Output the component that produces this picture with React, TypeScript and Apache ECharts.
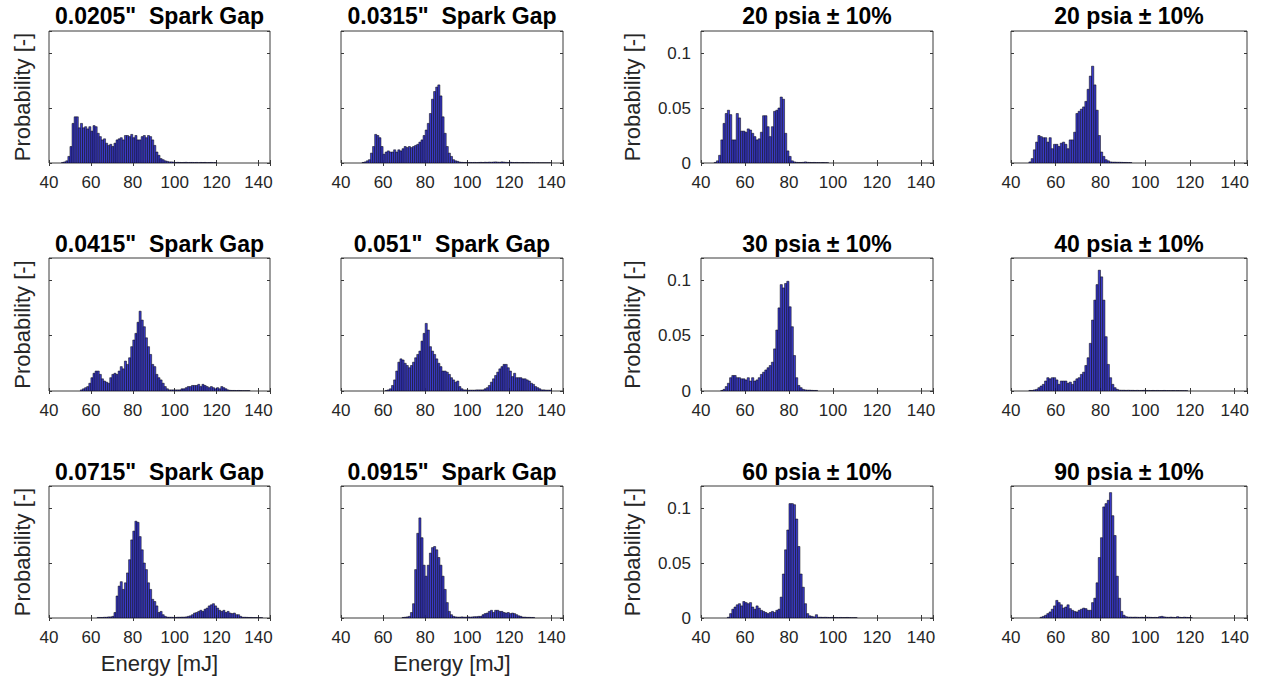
import React, { useEffect, useRef } from "react";
import * as echarts from "echarts";

// ---------- axis ranges / ticks ----------
const BIN_WIDTH = 1; // mJ
const X_MIN = 40;
const X_MAX = 145.5;
const X_STEP = 20;
const Y_MIN = 0;
const Y_MAX = 0.12;
const Y_STEP = 0.05;

const X_NAME = "Energy [mJ]";
const Y_NAME = "Probability [-]";

// ---------- titles ----------
const titles = [
  '0.0205"  Spark Gap', '0.0315"  Spark Gap', "20 psia ± 10%", "20 psia ± 10%",
  '0.0415"  Spark Gap', '0.051"  Spark Gap', "30 psia ± 10%", "40 psia ± 10%",
  '0.0715"  Spark Gap', '0.0915"  Spark Gap', "60 psia ± 10%", "90 psia ± 10%",
];

// ---------- histogram values (probability per 1 mJ bin), first bin start ----------
const gap0205Start = 46;
const gap0205 = [
  0.0005, 0.001, 0.002, 0.006, 0.015, 0.036, 0.042, 0.042, 0.032, 0.036,
  0.032, 0.033, 0.031, 0.033, 0.029, 0.034, 0.033, 0.027, 0.024, 0.021,
  0.022, 0.018, 0.016, 0.017, 0.015, 0.018, 0.021, 0.022, 0.023, 0.021,
  0.025, 0.025, 0.024, 0.026, 0.023, 0.025, 0.021, 0.021, 0.024, 0.025,
  0.023, 0.025, 0.024, 0.021, 0.016, 0.010, 0.007, 0.004, 0.003, 0.002,
  0.0015, 0.001, 0.001, 0.0008, 0.0005, 0.0006, 0.0005, 0.0004, 0.0005, 0.0006,
  0.0004, 0.0005, 0.0005, 0.0004, 0.0005, 0.0003, 0.0005, 0.0004, 0.0005, 0.0003,
  0.0004, 0.0005, 0.0003, 0.0004,
];

const gap0315Start = 50;
const gap0315 = [
  0.0005, 0.001, 0.002, 0.003, 0.009, 0.015, 0.026, 0.025, 0.023, 0.015,
  0.008, 0.010, 0.011, 0.010, 0.010, 0.012, 0.010, 0.012, 0.011, 0.013,
  0.015, 0.014, 0.015, 0.014, 0.015, 0.016, 0.017, 0.019, 0.021, 0.025,
  0.030, 0.036, 0.045, 0.058, 0.065, 0.069, 0.071, 0.061, 0.042, 0.027,
  0.015, 0.009, 0.006, 0.003, 0.002, 0.0015, 0.0008, 0.0006, 0.0005, 0.0005,
  0.0004, 0.0005, 0.0004, 0.0005, 0.0004, 0.0005, 0.0006, 0.0005, 0.0007, 0.0006,
  0.0008, 0.0007, 0.0009, 0.001, 0.0008, 0.0007, 0.001, 0.0008, 0.0006, 0.0005,
  0.0007, 0.0005, 0.0004, 0.0005, 0.0004, 0.0003, 0.0004, 0.0003, 0.0004, 0.0003,
  0.0003, 0.0003, 0.0002, 0.0003, 0.0002, 0.0002, 0.0002, 0.0002, 0.0002, 0.0002,
];

const psi20aStart = 46;
const psi20a = [
  0.0005, 0.002, 0.007, 0.021, 0.036, 0.045, 0.048, 0.044, 0.021, 0.021,
  0.045, 0.041, 0.029, 0.029, 0.028, 0.031, 0.030, 0.027, 0.024, 0.021,
  0.022, 0.028, 0.043, 0.043, 0.033, 0.024, 0.033, 0.047, 0.048, 0.050,
  0.060, 0.058, 0.027, 0.011, 0.006, 0.002, 0.001, 0.0006, 0.0005, 0.0005,
  0.0006, 0.001, 0.0006, 0.0005, 0.0004, 0.0005, 0.0004, 0.0004, 0.0003, 0.0004,
  0.0003, 0.0003,
];

const psi20bStart = 48;
const psi20b = [
  0.001, 0.004, 0.012, 0.019, 0.025, 0.024, 0.023, 0.023, 0.019, 0.023,
  0.013, 0.017, 0.017, 0.015, 0.018, 0.019, 0.017, 0.013, 0.021, 0.021,
  0.028, 0.045, 0.047, 0.049, 0.051, 0.056, 0.067, 0.079, 0.088, 0.071,
  0.048, 0.025, 0.010, 0.006, 0.003, 0.002, 0.001, 0.0008, 0.0008, 0.0007,
  0.0007, 0.0006, 0.0005, 0.0005, 0.0004, 0.0004,
];

const gap0415Start = 55;
const gap0415 = [
  0.001, 0.002, 0.003, 0.004, 0.007, 0.012, 0.016, 0.018, 0.018, 0.015,
  0.011, 0.009, 0.008, 0.007, 0.012, 0.015, 0.016, 0.015, 0.018, 0.022,
  0.020, 0.027, 0.024, 0.030, 0.040, 0.046, 0.052, 0.062, 0.072, 0.064,
  0.058, 0.048, 0.040, 0.033, 0.024, 0.022, 0.015, 0.012, 0.010, 0.007,
  0.004, 0.002, 0.001, 0.001, 0.001, 0.001, 0.001, 0.001, 0.002, 0.002,
  0.003, 0.004, 0.004, 0.005, 0.005, 0.005, 0.006, 0.004, 0.006, 0.005,
  0.004, 0.003, 0.004, 0.003, 0.002, 0.003, 0.002, 0.004, 0.003, 0.002,
  0.001, 0.0006, 0.0005, 0.0005, 0.0004, 0.0005, 0.0004, 0.0003, 0.0003, 0.0003,
  0.0003,
];

const gap051Start = 61;
const gap051 = [
  0.0005, 0.001, 0.002, 0.005, 0.010, 0.018, 0.026, 0.029, 0.028, 0.025,
  0.023, 0.021, 0.023, 0.026, 0.030, 0.033, 0.036, 0.045, 0.052, 0.061,
  0.055, 0.040, 0.036, 0.033, 0.029, 0.025, 0.022, 0.018, 0.018, 0.017,
  0.015, 0.012, 0.010, 0.008, 0.009, 0.004, 0.002, 0.001, 0.001, 0.0008,
  0.0008, 0.0008, 0.0008, 0.001, 0.001, 0.001, 0.001, 0.002, 0.003, 0.005,
  0.008, 0.011, 0.014, 0.017, 0.020, 0.022, 0.024, 0.024, 0.021, 0.018,
  0.013, 0.016, 0.012, 0.012, 0.012, 0.011, 0.011, 0.010, 0.009, 0.007,
  0.006, 0.004, 0.003, 0.002, 0.001, 0.001, 0.0008, 0.0008, 0.0008,
];

const psi30Start = 49;
const psi30 = [
  0.0005, 0.0015, 0.004, 0.007, 0.012, 0.014, 0.014, 0.012, 0.012, 0.011,
  0.011, 0.010, 0.012, 0.009, 0.012, 0.009, 0.010, 0.012, 0.015, 0.017,
  0.019, 0.021, 0.023, 0.026, 0.038, 0.055, 0.075, 0.096, 0.093, 0.097,
  0.099, 0.076, 0.058, 0.032, 0.012, 0.005, 0.003, 0.0015, 0.001, 0.0008,
  0.0008, 0.0006, 0.0005, 0.0005,
];

const psi40Start = 48;
const psi40 = [
  0.0005, 0.0005, 0.001, 0.0015, 0.003, 0.0045, 0.006, 0.009, 0.012, 0.011,
  0.012, 0.012, 0.010, 0.006, 0.009, 0.009, 0.009, 0.007, 0.008, 0.006,
  0.009, 0.011, 0.012, 0.015, 0.017, 0.023, 0.030, 0.043, 0.064, 0.082,
  0.096, 0.109, 0.103, 0.082, 0.049, 0.024, 0.012, 0.006, 0.003, 0.0015,
  0.0008, 0.0007, 0.0007, 0.0006, 0.0007, 0.0006, 0.0006, 0.0005, 0.0006, 0.0005,
  0.0005, 0.0006, 0.0005, 0.0005, 0.0004, 0.0005, 0.0004, 0.0005, 0.0004, 0.0004,
  0.0005, 0.0004, 0.0004, 0.0003, 0.0004, 0.0003, 0.0004, 0.0003, 0.0003, 0.0003,
  0.0003,
];

const gap0715Start = 63;
const gap0715 = [
  0.0005, 0.0005, 0.0005, 0.0007, 0.0007, 0.001, 0.001, 0.0015, 0.005, 0.020,
  0.029, 0.033, 0.026, 0.032, 0.041, 0.053, 0.071, 0.079, 0.088, 0.087,
  0.074, 0.062, 0.050, 0.044, 0.032, 0.026, 0.017, 0.015, 0.011, 0.005,
  0.006, 0.003, 0.0015, 0.0008, 0.0007, 0.0007, 0.0006, 0.0006, 0.0007, 0.0007,
  0.0008, 0.0008, 0.001, 0.0015, 0.002, 0.003, 0.0045, 0.005, 0.006, 0.007,
  0.006, 0.008, 0.009, 0.011, 0.012, 0.013, 0.011, 0.009, 0.007, 0.006,
  0.007, 0.005, 0.006, 0.0045, 0.004, 0.0045, 0.003, 0.003, 0.0015, 0.0007,
  0.0007, 0.0006, 0.0005, 0.0005, 0.0004, 0.0004, 0.0003, 0.0003, 0.0003,
];

const gap0915Start = 69;
const gap0915 = [
  0.0005, 0.0007, 0.001, 0.0015, 0.005, 0.013, 0.044, 0.077, 0.091, 0.073,
  0.048, 0.038, 0.048, 0.059, 0.064, 0.065, 0.062, 0.055, 0.048, 0.038,
  0.026, 0.014, 0.006, 0.003, 0.0015, 0.001, 0.0008, 0.0008, 0.001, 0.0008,
  0.0008, 0.001, 0.0008, 0.001, 0.0012, 0.0012, 0.0015, 0.0015, 0.003, 0.004,
  0.0045, 0.006, 0.007, 0.005, 0.007, 0.007, 0.006, 0.006, 0.005, 0.0045,
  0.005, 0.004, 0.0045, 0.004, 0.003, 0.002, 0.0015, 0.0008, 0.0008, 0.0006,
  0.0006, 0.0005, 0.0005,
];

const psi60Start = 52;
const psi60 = [
  0.0007, 0.004, 0.008, 0.010, 0.012, 0.013, 0.011, 0.015, 0.014, 0.013,
  0.014, 0.010, 0.008, 0.011, 0.009, 0.007, 0.006, 0.005, 0.004, 0.005,
  0.006, 0.005, 0.007, 0.008, 0.019, 0.040, 0.062, 0.080, 0.104, 0.104,
  0.103, 0.090, 0.065, 0.040, 0.028, 0.013, 0.004, 0.002, 0.0015, 0.001,
  0.003, 0.0007, 0.0007, 0.0006, 0.0007, 0.0006, 0.0005, 0.0006, 0.0005, 0.0005,
  0.0004, 0.0005, 0.0004, 0.0004, 0.0005, 0.0004, 0.0003, 0.0003, 0.0003,
];

const psi90Start = 53;
const psi90 = [
  0.0007, 0.0015, 0.0025, 0.004, 0.0055, 0.008, 0.011, 0.016, 0.014, 0.012,
  0.009, 0.010, 0.012, 0.0085, 0.007, 0.006, 0.0055, 0.007, 0.008, 0.009,
  0.0085, 0.007, 0.007, 0.014, 0.018, 0.032, 0.055, 0.073, 0.101, 0.104,
  0.107, 0.114, 0.093, 0.075, 0.038, 0.018, 0.006, 0.0025, 0.0012, 0.0008,
  0.0008, 0.0007, 0.0008, 0.0007, 0.0006, 0.0007, 0.0006, 0.0008, 0.0007, 0.0006,
  0.0005, 0.0006, 0.0005, 0.0012, 0.0015, 0.0010, 0.0007, 0.0006, 0.0008, 0.0006,
  0.0005, 0.0012, 0.0006, 0.0005, 0.0008, 0.0006, 0.0005, 0.0004,
];

const panelStarts = [
  gap0205Start, gap0315Start, psi20aStart, psi20bStart,
  gap0415Start, gap051Start, psi30Start, psi40Start,
  gap0715Start, gap0915Start, psi60Start, psi90Start,
];
const panelValues = [
  gap0205, gap0315, psi20a, psi20b,
  gap0415, gap051, psi30, psi40,
  gap0715, gap0915, psi60, psi90,
];

// ---------- layout (pixels) ----------
const COL_LEFT = [49, 341, 701, 1011];
const COL_WIDTH = [221, 222, 232, 236];
const ROW_TOP = [31, 258, 486];
const ROW_HEIGHT = [132, 133, 132];
const TITLE_Y = [15.5, 243.5, 472];

const FONT = "'Liberation Sans', Arial, Helvetica, sans-serif";
const TEXT_COLOR = "#262626";
const FRAME_COLOR = "#3a3a3a";
const BAR_FILL = "#3a3ac8";
const BAR_EDGE = "#000000";

function xLabel(v: number) {
  const r = (v - X_MIN) / X_STEP;
  return Math.abs(r - Math.round(r)) < 1e-6 ? String(Math.round(v)) : "";
}
function yLabel(v: number) {
  const r = v / Y_STEP;
  if (Math.abs(r - Math.round(r)) > 1e-6) return "";
  return String(Math.round(v * 100) / 100);
}

function buildOption() {
  const grid: any[] = [];
  const xAxis: any[] = [];
  const yAxis: any[] = [];
  const series: any[] = [];
  const graphic: any[] = [];

  for (let i = 0; i < 12; i++) {
    const row = Math.floor(i / 4);
    const col = i % 4;
    grid.push({
      left: COL_LEFT[col],
      top: ROW_TOP[row],
      width: COL_WIDTH[col],
      height: ROW_HEIGHT[row],
      show: true,
      borderColor: FRAME_COLOR,
      borderWidth: 1,
      backgroundColor: "#ffffff",
      containLabel: false,
    });
    const tick = { show: true, inside: true, length: 3, lineStyle: { color: FRAME_COLOR, width: 1 } };
    const showXName = row === 2 && col < 2;
    xAxis.push({
      gridIndex: i,
      type: "value",
      position: "bottom",
      min: X_MIN,
      max: X_MAX,
      interval: X_STEP,
      axisLine: { show: false },
      axisTick: tick,
      splitLine: { show: false },
      axisLabel: { show: true, formatter: xLabel, fontSize: 17, color: TEXT_COLOR, fontFamily: FONT, margin: 11 },
      name: showXName ? X_NAME : "",
      nameLocation: "middle",
      nameGap: 34,
      nameTextStyle: { fontSize: 22, color: TEXT_COLOR, fontFamily: FONT },
    });
    xAxis.push({
      gridIndex: i,
      type: "value",
      position: "top",
      min: X_MIN,
      max: X_MAX,
      interval: X_STEP,
      axisLine: { show: false },
      axisTick: tick,
      splitLine: { show: false },
      axisLabel: { show: false },
    });
    const showYLabels = col === 2;
    const showYName = col === 0 || col === 2;
    yAxis.push({
      gridIndex: i,
      type: "value",
      position: "left",
      min: Y_MIN,
      max: Y_MAX,
      interval: Y_STEP,
      axisLine: { show: false },
      axisTick: tick,
      splitLine: { show: false },
      axisLabel: { show: showYLabels, formatter: yLabel, fontSize: 17, color: TEXT_COLOR, fontFamily: FONT, margin: 10 },
      name: showYName ? Y_NAME : "",
      nameLocation: "middle",
      nameGap: showYLabels ? 58 : 16,
      nameTextStyle: { fontSize: 22, color: TEXT_COLOR, fontFamily: FONT },
    });
    yAxis.push({
      gridIndex: i,
      type: "value",
      position: "right",
      min: Y_MIN,
      max: Y_MAX,
      interval: Y_STEP,
      axisLine: { show: false },
      axisTick: tick,
      splitLine: { show: false },
      axisLabel: { show: false },
    });

    const start = panelStarts[i];
    const data = panelValues[i].map((v, k) => [start + k * BIN_WIDTH, v]);
    series.push({
      type: "custom",
      name: titles[i],
      xAxisIndex: 2 * i,
      yAxisIndex: 2 * i,
      data,
      clip: true,
      renderItem: (_params: any, api: any) => {
        const x0 = api.value(0);
        const v = api.value(1);
        const pTop = api.coord([x0, v]);
        const pBot = api.coord([x0 + BIN_WIDTH, 0]);
        return {
          type: "rect",
          shape: { x: pTop[0], y: pTop[1], width: pBot[0] - pTop[0], height: pBot[1] - pTop[1] },
          style: { fill: BAR_FILL, stroke: BAR_EDGE, lineWidth: 0.5 },
        };
      },
    });

    graphic.push({
      type: "text",
      x: COL_LEFT[col] + COL_WIDTH[col] / 2,
      y: TITLE_Y[row],
      style: {
        text: titles[i],
        fill: "#000000",
        font: `bold 23px ${FONT}`,
        align: "center",
        verticalAlign: "middle",
        textAlign: "center",
        textVerticalAlign: "middle",
      },
    });
  }

  return {
    animation: false,
    backgroundColor: "#ffffff",
    grid,
    xAxis,
    yAxis,
    series,
    graphic,
  };
}

export default function App() {
  const ref = useRef<HTMLDivElement>(null);
  useEffect(() => {
    const chart = echarts.init(ref.current!, undefined, { renderer: "svg" });
    chart.setOption(buildOption() as any);
    return () => chart.dispose();
  }, []);
  return (
    <div
      ref={ref}
      style={{ position: "absolute", left: 0, top: 0, width: 1261, height: 682, background: "#ffffff" }}
    />
  );
}
